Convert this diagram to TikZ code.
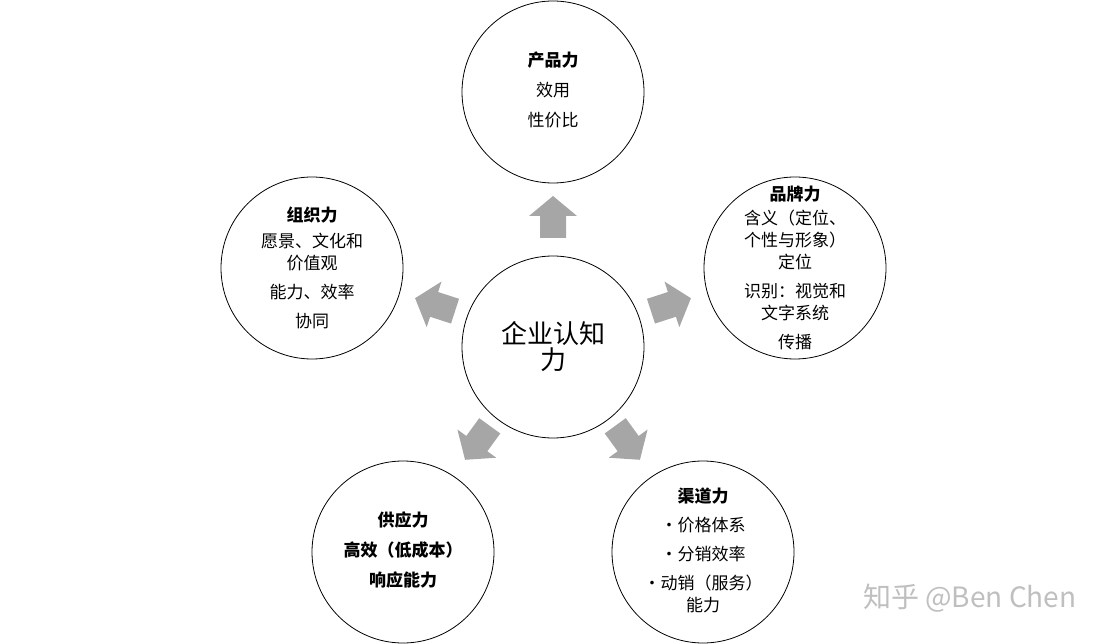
\documentclass[tikz,border=0pt]{standalone}
\usepackage{fontspec}
\setmainfont{Noto Sans CJK SC}
\begin{document}
\begin{tikzpicture}[x=1pt,y=1pt,
  circ/.style={draw,circle,minimum size=182pt,line width=0.8pt,align=center,font=\fontsize{17}{26}\selectfont},
  barrow/.style={fill=black!35,draw=none}]
\useasboundingbox (0,0) rectangle (1106,-644);
\newcommand{\blockarrow}[3]{\fill[barrow,shift={(#1,#2)},rotate=#3] (-20,-13)--(2,-13)--(2,-24)--(22,0)--(2,24)--(2,13)--(-20,13)--cycle;}
\node[circ] (c) at (553,-347) {\fontsize{26}{30}\selectfont 企业认知\\\fontsize{26}{30}\selectfont 力};
\node[circ] (p) at (553,-92) {};
\node[align=center,font=\fontsize{17}{30}\selectfont] (pt) at (553,-90) {\textbf{产品力}\\效用\\性价比};
\node[circ] (b) at (795,-268) {};
\node[align=center,font=\fontsize{17}{22}\selectfont] (bt) at (795,-268) {\textbf{品牌力}\\[2pt]含义（定位、\\个性与形象）\\定位\\[7pt]识别：视觉和\\文字系统\\[7pt]传播};
\node[circ] (o) at (312,-268) {};
\node[align=center,font=\fontsize{17}{22}\selectfont] (ot) at (312,-268) {\textbf{组织力}\\[4pt]愿景、文化和\\价值观\\[7pt]能力、效率\\[7pt]协同};
\node[circ] (s) at (403,-552) {};
\node[align=center,font=\fontsize{17}{30}\selectfont] (st) at (403,-550) {\textbf{供应力}\\\textbf{高效（低成本）}\\\textbf{响应能力}};
\node[circ] (q) at (703,-552) {};
\node[align=center,font=\fontsize{17}{22}\selectfont] (qt) at (703,-550) {\textbf{渠道力}\\[7pt]•价格体系\\[7pt]•分销效率\\[7pt]•动销（服务）\\能力};
\blockarrow{553}{-218}{90}
\blockarrow{670}{-305}{18}
\blockarrow{436}{-305}{162}
\blockarrow{478}{-442}{234}
\blockarrow{627}{-442}{306}
\node[text=black!25,font=\fontsize{28}{32}\selectfont,anchor=east] (wm) at (1080,-598) {知乎 @Ben Chen};
\end{tikzpicture}
\end{document}
